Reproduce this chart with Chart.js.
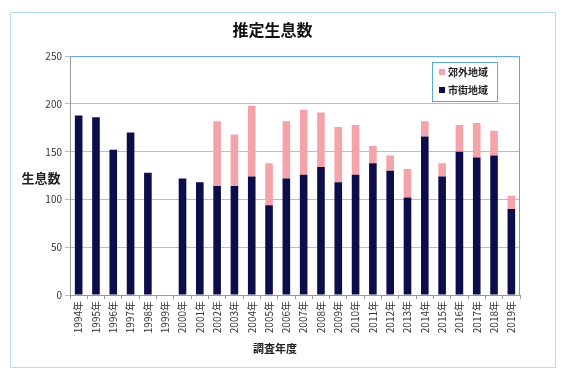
<!DOCTYPE html>
<html>
<head>
<meta charset="utf-8">
<script src="https://cdn.jsdelivr.net/npm/chart.js@4/dist/chart.umd.min.js"></script>
<style>
  html, body { margin: 0; background: #fff; }
  #wrap { width: 567px; height: 380px; position: relative; }
</style>
</head>
<body>
<div id="wrap"><canvas id="chart" width="567" height="380"></canvas></div>
<script>
// 調査年度
const years = ['1994年','1995年','1996年','1997年','1998年','1999年','2000年','2001年','2002年',
  '2003年','2004年','2005年','2006年','2007年','2008年','2009年','2010年','2011年','2012年',
  '2013年','2014年','2015年','2016年','2017年','2018年','2019年'];

// 市街地域（下段）
const urban = [188, 186, 152, 170, 128, null, 122, 118, 114, 114, 124, 94, 122, 126, 134,
  118, 126, 138, 130, 102, 166, 124, 150, 144, 146, 90];

// 郊外地域（上段）
const suburban = [null, null, null, null, null, null, null, null, 68, 54, 74, 44, 60, 68, 57,
  58, 52, 18, 16, 30, 16, 14, 28, 36, 26, 14];

const yTicks = [0, 50, 100, 150, 200, 250];

const jpFont = '"Noto Sans CJK JP", "Noto Sans", sans-serif';
Chart.defaults.font.family = jpFont;
Chart.defaults.color = '#333';

// 枠線・凡例・軸タイトル
const decor = {
    id: 'decor',
    beforeDraw(chart) {
        const ctx = chart.ctx;
        ctx.save();
        ctx.fillStyle = '#fff';
        ctx.fillRect(0, 0, chart.width, chart.height);
        ctx.strokeStyle = '#b5dcef';
        ctx.lineWidth = 1;
        ctx.strokeRect(10.5, 12.5, 545, 355);
        ctx.restore();
    },
    afterDraw(chart) {
        const ctx = chart.ctx;
        const a = chart.chartArea;
        ctx.save();

        // プロットエリア上・右の枠
        ctx.strokeStyle = '#5aa7dc';
        ctx.lineWidth = 1;
        ctx.beginPath();
        ctx.moveTo(a.left, a.top + 0.5);
        ctx.lineTo(a.right - 0.5, a.top + 0.5);
        ctx.lineTo(a.right - 0.5, a.bottom);
        ctx.stroke();

        // 軸タイトル
        ctx.fillStyle = '#222';
        ctx.textAlign = 'center';
        ctx.textBaseline = 'middle';
        ctx.font = 'bold 13px ' + jpFont;
        ctx.fillText('生息数', 41, 178);
        ctx.font = 'bold 11px ' + jpFont;
        ctx.fillText('調査年度', 275, 349);

        // 凡例（郊外地域が上）
        ctx.fillStyle = '#fff';
        ctx.fillRect(432, 62, 65, 39);
        ctx.strokeStyle = '#5aa7dc';
        ctx.strokeRect(432.5, 62.5, 65, 39);
        const items = chart.data.datasets.slice().reverse();
        items.forEach((ds, i) => {
            const cy = 72 + i * 18;
            ctx.fillStyle = ds.backgroundColor;
            ctx.fillRect(439, cy - 3, 6, 6);
            ctx.fillStyle = '#222';
            ctx.textAlign = 'left';
            ctx.font = 'bold 10px ' + jpFont;
            ctx.fillText(ds.label, 448, cy);
        });
        ctx.restore();
    }
};

new Chart(document.getElementById('chart').getContext('2d'), {
    type: 'bar',
    data: {
        labels: years,
        datasets: [
            {
                label: '市街地域',
                data: urban,
                backgroundColor: '#0d0d4a',
                barPercentage: 0.44,
                categoryPercentage: 1.0
            },
            {
                label: '郊外地域',
                data: suburban,
                backgroundColor: '#f5a3aa',
                barPercentage: 0.44,
                categoryPercentage: 1.0
            }
        ]
    },
    options: {
        responsive: false,
        animation: false,
        devicePixelRatio: 1,
        layout: {
            padding: { left: 25, right: 47, top: 20, bottom: 15 }
        },
        plugins: {
            legend: { display: false },
            tooltip: { enabled: false },
            title: {
                display: true,
                text: '推定生息数',
                color: '#111',
                font: { size: 16, weight: 'bold' },
                padding: { top: 0, bottom: 17 }
            }
        },
        scales: {
            x: {
                stacked: true,
                grid: {
                    display: true,
                    drawOnChartArea: false,
                    drawTicks: true,
                    tickLength: 4,
                    color: '#999',
                    offset: true
                },
                border: { color: '#999' },
                ticks: {
                    autoSkip: false,
                    minRotation: 90,
                    maxRotation: 90,
                    padding: 2,
                    font: { size: 10 },
                    color: '#333'
                },
                afterFit(scale) { scale.height = 70; }
            },
            y: {
                stacked: true,
                min: yTicks[0],
                max: yTicks[yTicks.length - 1],
                afterBuildTicks(scale) {
                    scale.ticks = yTicks.map(v => ({ value: v }));
                },
                grid: {
                    color: '#bdbdbd',
                    tickLength: 5,
                    drawTicks: true
                },
                border: { color: '#999' },
                ticks: {
                    padding: 3,
                    font: { size: 10 },
                    color: '#333'
                },
                afterFit(scale) { scale.width = 45; }
            }
        }
    },
    plugins: [decor]
});
</script>
</body>
</html>
